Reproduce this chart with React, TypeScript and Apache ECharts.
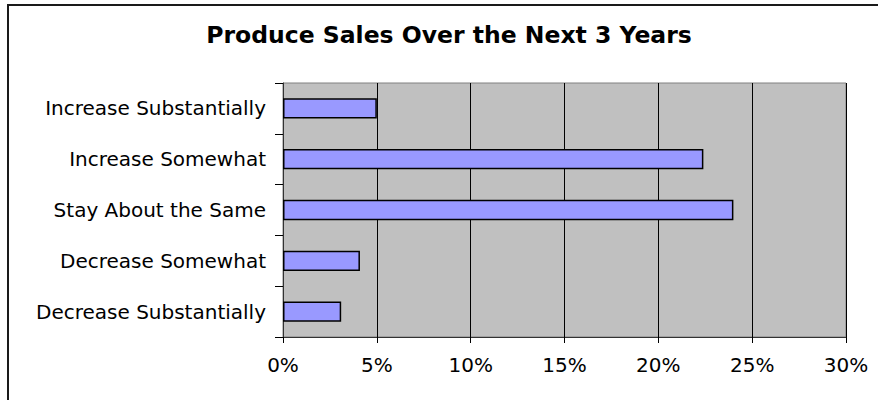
import React, { useEffect, useRef } from "react";
import * as echarts from "echarts";

const categories = [
  "Increase Substantially",
  "Increase Somewhat",
  "Stay About the Same",
  "Decrease Somewhat",
  "Decrease Substantially",
];
const values = [5.0, 22.4, 24.0, 4.1, 3.1];
const titleText = "Produce Sales Over the Next 3 Years";
const xMin = 0;
const xMax = 30;
const xStep = 5;

export default function App() {
  const ref = useRef<HTMLDivElement>(null);
  useEffect(() => {
    if (!ref.current) return;
    const chart = echarts.init(ref.current, null, { renderer: "svg" });
    const font = "DejaVu Sans";
    chart.setOption({
      animation: false,
      backgroundColor: "#ffffff",
      graphic: [
        {
          type: "rect",
          shape: { x: 8, y: 5, width: 900, height: 420 },
          style: { fill: "none", stroke: "#1a1a1a", lineWidth: 2 },
          silent: true,
        },
        {
          type: "text",
          x: 449,
          y: 35,
          style: {
            text: titleText,
            fontFamily: font,
            fontWeight: "bold",
            fontSize: 23.5,
            fill: "#000",
            align: "center",
            verticalAlign: "middle",
          },
        },
      ],
      grid: {
        left: 283,
        top: 83,
        right: 32,
        bottom: 63,
        show: true,
        backgroundColor: "#C0C0C0",
        borderColor: "#808080",
        borderWidth: 1,
      },
      xAxis: {
        type: "value",
        min: xMin,
        max: xMax,
        interval: xStep,
        axisLine: { show: true, lineStyle: { color: "#333", width: 1 } },
        axisTick: { show: true, length: 6, lineStyle: { color: "#000" } },
        axisLabel: {
          formatter: "{value}%",
          fontFamily: font,
          fontSize: 20,
          color: "#000",
          margin: 18,
        },
        splitLine: { show: true, lineStyle: { color: "#000", width: 1 } },
      },
      yAxis: {
        type: "category",
        inverse: true,
        data: categories,
        axisLine: { show: true, lineStyle: { color: "#333", width: 1 } },
        axisTick: { show: true, length: 8, lineStyle: { color: "#000" } },
        axisLabel: {
          fontFamily: font,
          fontSize: 20,
          color: "#000",
          margin: 17,
        },
        splitLine: { show: false },
      },
      series: [
        {
          type: "bar",
          data: values,
          barWidth: "40%",
          itemStyle: {
            color: "#9999FF",
            borderColor: "#000",
            borderWidth: 1.5,
          },
        },
      ],
    });
    return () => chart.dispose();
  }, []);
  return (
    <div
      ref={ref}
      style={{ position: "fixed", left: 0, top: 0, width: 878, height: 400 }}
    />
  );
}
